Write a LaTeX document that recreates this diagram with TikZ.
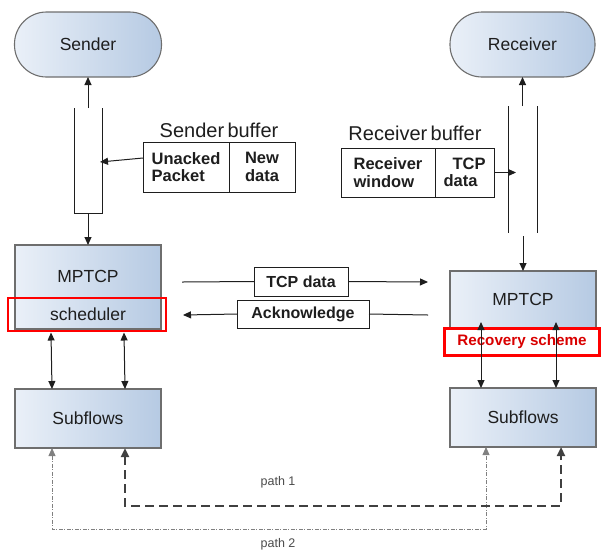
\documentclass[tikz,border=0pt]{standalone}
\usepackage{fontspec}
\setmainfont{Liberation Sans}
\usetikzlibrary{arrows.meta,calc}
\definecolor{boxL}{HTML}{EAF0F8}
\definecolor{boxR}{HTML}{B6CAE3}
\definecolor{edge}{HTML}{6E6E6E}
\definecolor{ink}{HTML}{1E1E1E}
\definecolor{redb}{HTML}{FF0000}
\begin{document}
\begin{tikzpicture}[x=1pt,y=-1pt,
  every node/.style={inner sep=0pt,outer sep=0pt,text=ink},
  grad/.style={draw=edge,line width=1.1pt,shading=axis,left color=boxL,right color=boxR,shading angle=90},
  stad/.style={grad,rounded corners=32pt},
  cell/.style={draw=ink,line width=0.9pt,fill=white,font=\fontsize{16.5}{17.5}\selectfont\bfseries,align=left},
  lbl/.style={draw=ink,line width=0.9pt,fill=white,font=\fontsize{16}{17}\selectfont\bfseries},
  redbox/.style={draw=redb,line width=2.6pt},
  big/.style={font=\fontsize{17.5}{20}\selectfont},
  arr/.style={draw=ink,line width=1pt,-{Triangle[length=8pt,width=7pt]}},
  darr/.style={draw=ink,line width=1pt,{Triangle[length=8pt,width=7pt]}-{Triangle[length=8pt,width=7pt]}},
  pathone/.style={draw=ink!85,line width=2.4pt,dash pattern=on 9pt off 5pt,{Triangle[length=9pt,width=8pt]}-{Triangle[length=9pt,width=8pt]}},
  pathtwo/.style={draw=gray,line width=0.8pt,dash pattern=on 4pt off 1.5pt on 1pt off 1.5pt,{Triangle[length=8pt,width=7pt]}-{Triangle[length=8pt,width=7pt]}},
  small/.style={font=\fontsize{12.5}{14}\selectfont,text=ink!80}
]
\useasboundingbox (0,0) rectangle (601,550);

% top ends
\node[stad,minimum width=147pt,minimum height=65pt,big] (sender) at (88,44.5) {Sender};
\node[stad,minimum width=145pt,minimum height=65pt,big] (receiver) at (522.5,44.5) {Receiver};

% sender column
\node[minimum width=28pt,minimum height=105pt] (scol) at (88,160.5) {};
\draw[ink,line width=0.9pt] (scol.north west) -- (scol.south west) -- (scol.south east) -- (scol.north east);
\coordinate (stip) at (100,162);

% receiver column
\node[minimum width=29pt,minimum height=127pt] (rcol) at (522.5,169.5) {};
\draw[ink,line width=0.9pt] (rcol.north west) -- (rcol.south west);
\draw[ink,line width=0.9pt] (rcol.north east) -- (rcol.south east);
\coordinate (rtip) at (516,172.5);
\coordinate (rcolend) at (523,236);

% sender buffer
\node[font=\fontsize{20}{22}\selectfont] (sbuf) at (219,130) {Sender\,buffer};
\node[cell,minimum width=86pt,minimum height=50pt] (sb1) at (186,167) {Unacked\\Packet};
\node[cell,minimum width=66pt,minimum height=50pt] (sb2) at (262,167) {New\\data};

% receiver buffer
\node[font=\fontsize{20}{22}\selectfont] (rbuf) at (415,133) {Receiver\,buffer};
\node[cell,minimum width=94pt,minimum height=49pt] (rb1) at (388,172.5) {Receiver\\window};
\node[cell,minimum width=59pt,minimum height=49pt] (rb2) at (464.5,172.5) {\hspace{9pt}TCP\\data\hspace{9pt}};

% sender MPTCP
\node[grad,minimum width=146pt,minimum height=84pt] (smp) at (88,287) {};
\node[big] (smpt) at (88,276) {MPTCP};
\node[big] (ssch) at (88,314) {scheduler};
\node[redbox,minimum width=158pt,minimum height=33pt] (sred) at (87,314.5) {};

% sender subflows
\node[grad,minimum width=146pt,minimum height=59pt,big] (ssub) at (88,418.5) {Subflows};

% receiver MPTCP
\node[grad,minimum width=146pt,minimum height=57pt,big] (rmp) at (523,299.5) {MPTCP};
\node[redbox,fill=white,minimum width=155pt,minimum height=27pt,font=\fontsize{15.2}{16}\selectfont\bfseries,text=redb!85!black] (rred) at (522,342) {Recovery scheme};

% receiver subflows
\node[grad,minimum width=146pt,minimum height=59pt,big] (rsub) at (523,417.5) {Subflows};

% middle labels
\node[lbl,minimum width=94pt,minimum height=29pt] (tcpd) at (301,281.5) {TCP data};
\node[lbl,minimum width=132pt,minimum height=28pt] (ack) at (303,314) {Acknowledge};
\coordinate (td0) at (182,282);
\coordinate (td1) at (428,282);
\coordinate (ak0) at (428,315);
\coordinate (ak1) at (183,315);

% connectors
\draw[arr] (scol.north) -- (sender.south);
\draw[arr] (scol.south) -- (smp.north);
\draw[arr] ([yshift=9pt]sb1.west) -- (stip);
\draw[arr] (rcol.north) -- (receiver.south);
\draw[arr] (rb2.east) -- (rtip);
\draw[arr] (rcolend) -- (rmp.north);
\draw[ink,line width=1pt] (td0) -- (tcpd.west);
\draw[arr] (tcpd.east) -- (td1);
\draw[ink,line width=1pt] (ak0) -- (ack.east);
\draw[arr] (ack.west) -- (ak1);

\draw[darr] ([xshift=-36pt,yshift=-1.5pt]sred.south) -- ([xshift=-36pt]ssub.north);
\draw[darr] ([xshift=37pt,yshift=-1.5pt]sred.south) -- ([xshift=37pt]ssub.north);
\draw[darr] ([xshift=-42pt,yshift=6pt]rmp.south) -- ([xshift=-42pt]rsub.north);
\draw[darr] ([xshift=33pt,yshift=6pt]rmp.south) -- ([xshift=33pt]rsub.north);

% bottom paths
\coordinate (p1c) at (561,506);
\coordinate (p2c) at (486,529);
\draw[pathtwo] ([xshift=-36pt]ssub.south) |- (p2c) -- ([xshift=-37pt]rsub.south);
\draw[pathone] ([xshift=37pt]ssub.south) |- (p1c) -- ([xshift=38pt]rsub.south);
\node[small] (p1) at (278,482) {path 1};
\node[small] (p2) at (278,544) {path 2};
\end{tikzpicture}
\end{document}
